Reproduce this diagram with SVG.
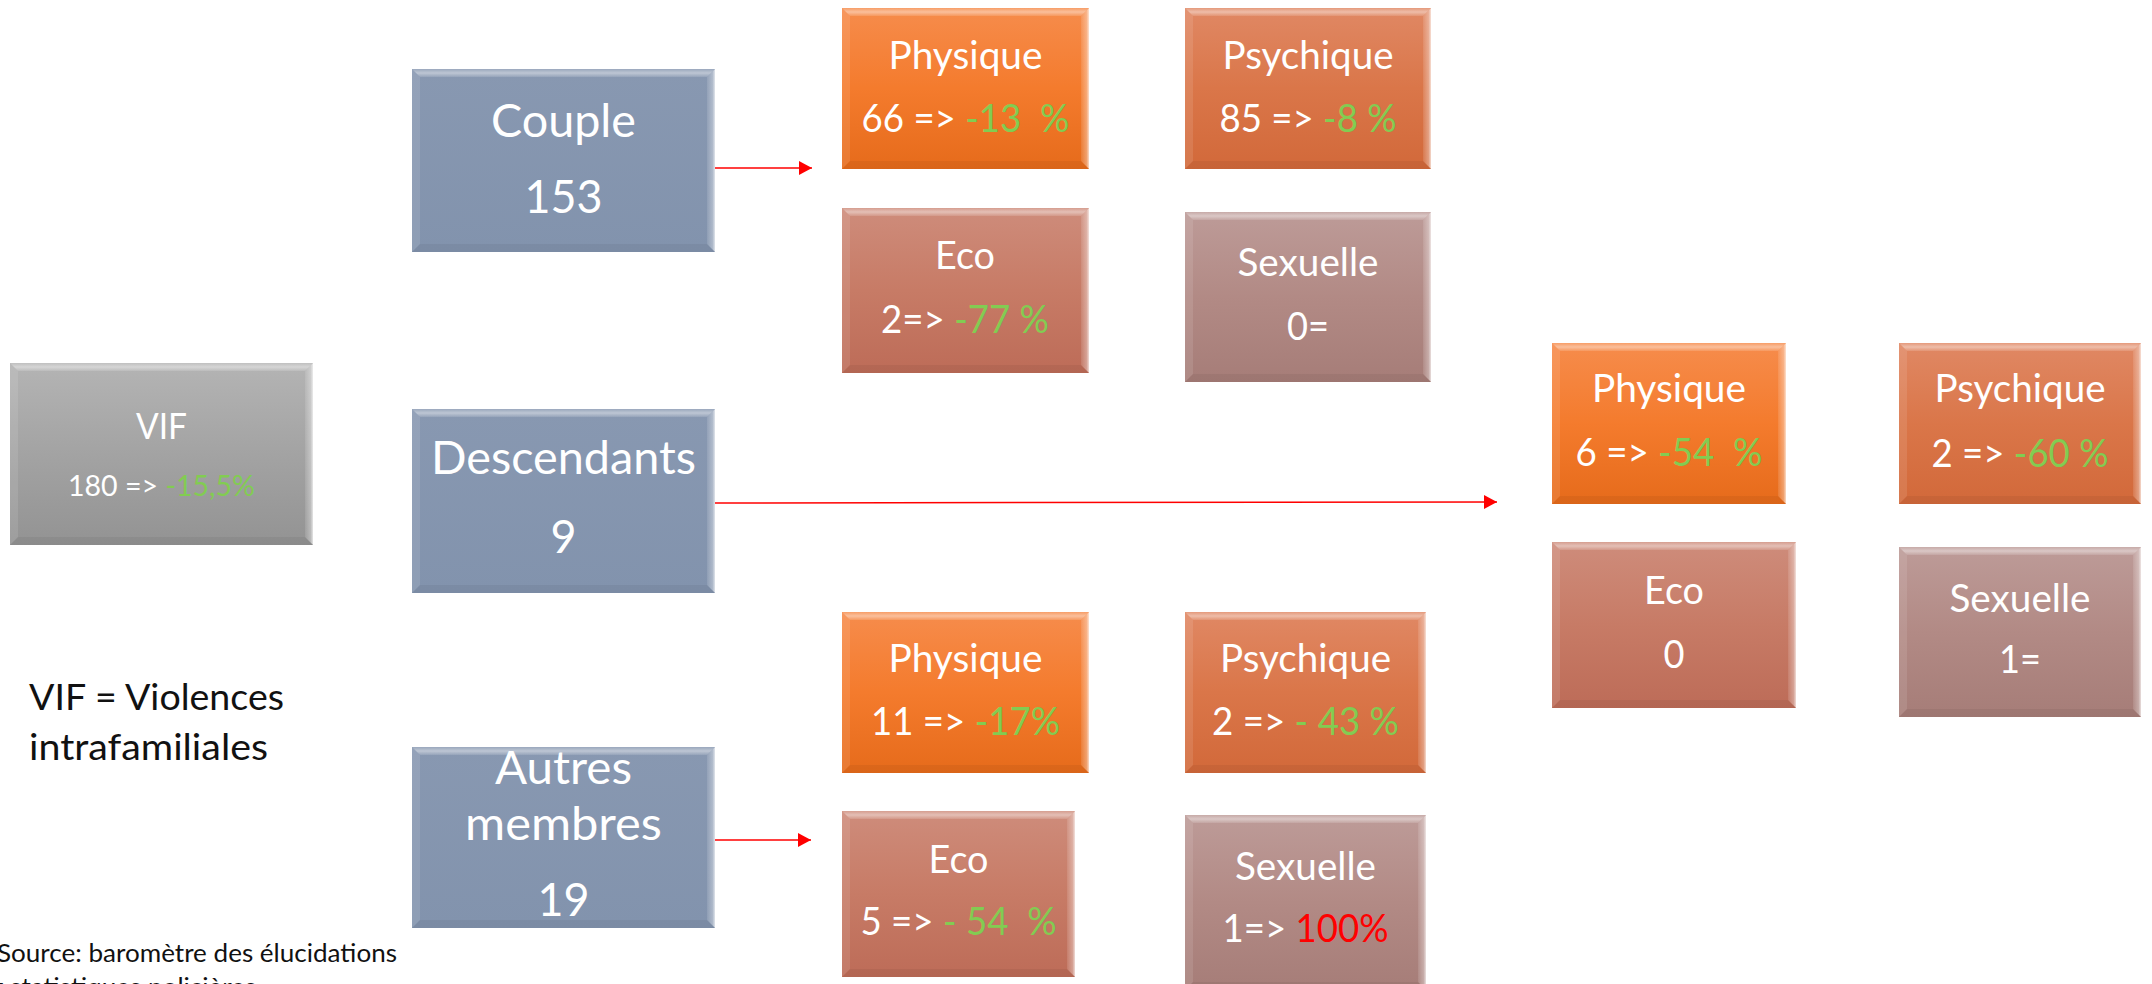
<svg xmlns="http://www.w3.org/2000/svg" width="2152" height="984" viewBox="0 0 2152 984">
<style>
text{font-family:Lato,"Liberation Sans",sans-serif;}
.w{fill:#ffffff;}
.g{fill:#82cc52;}
.r{fill:#ff0000;}
.k{fill:#111111;}
.s38{font-size:38px;}
.s46{font-size:46px;}
.bt{fill:url(#gTop);}
.bl{fill:#ffffff;fill-opacity:0.10;}
.br{fill:url(#gRight);}
.bb{fill:#000000;fill-opacity:0.05;}
.conn{stroke:#ff0000;stroke-width:1.5;fill:none;marker-end:url(#ah);}
</style>
<defs>
<linearGradient id="gGray" x1="0" y1="0" x2="0" y2="1"><stop offset="0" stop-color="#b4b4b4"/><stop offset="0.5" stop-color="#a3a3a3"/><stop offset="1" stop-color="#939393"/></linearGradient>
<linearGradient id="gBlue" x1="0" y1="0" x2="0" y2="1"><stop offset="0" stop-color="#8898b1"/><stop offset="1" stop-color="#8293ad"/></linearGradient>
<linearGradient id="gPhys" x1="0" y1="0" x2="0" y2="1"><stop offset="0" stop-color="#f68c4c"/><stop offset="0.5" stop-color="#f47b2d"/><stop offset="1" stop-color="#e66b1b"/></linearGradient>
<linearGradient id="gPsy" x1="0" y1="0" x2="0" y2="1"><stop offset="0" stop-color="#e08864"/><stop offset="0.5" stop-color="#da7649"/><stop offset="1" stop-color="#d2693a"/></linearGradient>
<linearGradient id="gEco" x1="0" y1="0" x2="0" y2="1"><stop offset="0" stop-color="#ce8c7b"/><stop offset="0.5" stop-color="#c77b66"/><stop offset="1" stop-color="#bd6c58"/></linearGradient>
<linearGradient id="gSex" x1="0" y1="0" x2="0" y2="1"><stop offset="0" stop-color="#bd9b98"/><stop offset="0.5" stop-color="#b28a85"/><stop offset="1" stop-color="#a67d78"/></linearGradient>
<linearGradient id="gTop" x1="0" y1="0" x2="0" y2="1"><stop offset="0" stop-color="#ffffff" stop-opacity="0.15"/><stop offset="0.5" stop-color="#ffffff" stop-opacity="0.45"/><stop offset="1" stop-color="#ffffff" stop-opacity="0.12"/></linearGradient>
<linearGradient id="gRight" x1="0" y1="0" x2="1" y2="0"><stop offset="0" stop-color="#ffffff" stop-opacity="0.1"/><stop offset="0.7" stop-color="#ffffff" stop-opacity="0.35"/><stop offset="1" stop-color="#ffffff" stop-opacity="0.75"/></linearGradient>
<marker id="ah" markerUnits="userSpaceOnUse" markerWidth="14" markerHeight="14" refX="13" refY="7" orient="auto"><path d="M0,0 L13,7 L0,14 z" fill="#ff0000"/></marker>
</defs>
<rect x="0" y="0" width="2152" height="984" fill="#ffffff"/>

<g id="connectors">
<path class="conn" d="M715,168 L812,168"/>
<path class="conn" d="M715,503 L1497,502"/>
<path class="conn" d="M715,840 L811,840"/>
</g>

<g id="vif" transform="translate(10,363)">
<rect width="303" height="182" fill="url(#gGray)"/>
<polygon class="bt" points="0,0 303,0 295,8 8,8"/><polygon class="bl" points="0,0 8,8 8,174 0,182"/><polygon class="br" points="303,0 303,182 295,174 295,8"/><polygon class="bb" points="0,182 8,174 295,174 303,182"/>
<text class="w" x="151.5" y="76" text-anchor="middle" font-size="36" textLength="51" lengthAdjust="spacingAndGlyphs">VIF</text>
<text x="151.5" y="133" text-anchor="middle" font-size="29" textLength="187" lengthAdjust="spacingAndGlyphs"><tspan class="w">180 =&gt; </tspan><tspan class="g">-15,5%</tspan></text>
</g>

<g id="couple" transform="translate(412,69)">
<rect width="303" height="183" fill="url(#gBlue)"/>
<polygon class="bt" points="0,0 303,0 295,8 8,8"/><polygon class="bl" points="0,0 8,8 8,175 0,183"/><polygon class="br" points="303,0 303,183 295,175 295,8"/><polygon class="bb" points="0,183 8,175 295,175 303,183"/>
<text class="w s46" x="151.5" y="68" text-anchor="middle" textLength="145" lengthAdjust="spacingAndGlyphs">Couple</text>
<text class="w s46" x="151.5" y="144" text-anchor="middle" textLength="78" lengthAdjust="spacingAndGlyphs">153</text>
</g>

<g id="descendants" transform="translate(412,409)">
<rect width="303" height="184" fill="url(#gBlue)"/>
<polygon class="bt" points="0,0 303,0 295,8 8,8"/><polygon class="bl" points="0,0 8,8 8,176 0,184"/><polygon class="br" points="303,0 303,184 295,176 295,8"/><polygon class="bb" points="0,184 8,176 295,176 303,184"/>
<text class="w s46" x="151.5" y="65" text-anchor="middle" textLength="265" lengthAdjust="spacingAndGlyphs">Descendants</text>
<text class="w s46" x="151.5" y="144" text-anchor="middle" textLength="26" lengthAdjust="spacingAndGlyphs">9</text>
</g>

<g id="autres" transform="translate(412,747)">
<rect width="303" height="181" fill="url(#gBlue)"/>
<polygon class="bt" points="0,0 303,0 295,8 8,8"/><polygon class="bl" points="0,0 8,8 8,173 0,181"/><polygon class="br" points="303,0 303,181 295,173 295,8"/><polygon class="bb" points="0,181 8,173 295,173 303,181"/>
<text class="w s46" x="151.5" y="37" text-anchor="middle" textLength="137" lengthAdjust="spacingAndGlyphs">Autres</text>
<text class="w s46" x="151.5" y="93" text-anchor="middle" textLength="197" lengthAdjust="spacingAndGlyphs">membres</text>
<text class="w s46" x="151.5" y="169" text-anchor="middle" textLength="52" lengthAdjust="spacingAndGlyphs">19</text>
</g>

<g id="couple-physique" transform="translate(842,8)">
<rect width="247" height="161" fill="url(#gPhys)"/>
<polygon class="bt" points="0,0 247,0 239,8 8,8"/><polygon class="bl" points="0,0 8,8 8,153 0,161"/><polygon class="br" points="247,0 247,161 239,153 239,8"/><polygon class="bb" points="0,161 8,153 239,153 247,161"/>
<text class="w s38" x="123.5" y="61" text-anchor="middle" textLength="154" lengthAdjust="spacingAndGlyphs">Physique</text>
<text class="s38" x="123.5" y="124" text-anchor="middle" xml:space="preserve" textLength="208" lengthAdjust="spacingAndGlyphs"><tspan class="w">66 =&gt; </tspan><tspan class="g">-13  %</tspan></text>
</g>

<g id="couple-psychique" transform="translate(1185,8)">
<rect width="246" height="161" fill="url(#gPsy)"/>
<polygon class="bt" points="0,0 246,0 238,8 8,8"/><polygon class="bl" points="0,0 8,8 8,153 0,161"/><polygon class="br" points="246,0 246,161 238,153 238,8"/><polygon class="bb" points="0,161 8,153 238,153 246,161"/>
<text class="w s38" x="123" y="61" text-anchor="middle" textLength="171" lengthAdjust="spacingAndGlyphs">Psychique</text>
<text class="s38" x="123" y="124" text-anchor="middle" xml:space="preserve" textLength="177" lengthAdjust="spacingAndGlyphs"><tspan class="w">85 =&gt; </tspan><tspan class="g">-8 %</tspan></text>
</g>

<g id="couple-eco" transform="translate(842,208)">
<rect width="247" height="165" fill="url(#gEco)"/>
<polygon class="bt" points="0,0 247,0 239,8 8,8"/><polygon class="bl" points="0,0 8,8 8,157 0,165"/><polygon class="br" points="247,0 247,165 239,157 239,8"/><polygon class="bb" points="0,165 8,157 239,157 247,165"/>
<text class="w s38" x="123" y="61" text-anchor="middle" textLength="60" lengthAdjust="spacingAndGlyphs">Eco</text>
<text class="s38" x="123" y="125" text-anchor="middle" xml:space="preserve" textLength="168" lengthAdjust="spacingAndGlyphs"><tspan class="w">2=&gt; </tspan><tspan class="g">-77 %</tspan></text>
</g>

<g id="couple-sexuelle" transform="translate(1185,212)">
<rect width="246" height="170" fill="url(#gSex)"/>
<polygon class="bt" points="0,0 246,0 238,8 8,8"/><polygon class="bl" points="0,0 8,8 8,162 0,170"/><polygon class="br" points="246,0 246,170 238,162 238,8"/><polygon class="bb" points="0,170 8,162 238,162 246,170"/>
<text class="w s38" x="123" y="64" text-anchor="middle" textLength="141" lengthAdjust="spacingAndGlyphs">Sexuelle</text>
<text class="w s38" x="123" y="128" text-anchor="middle" textLength="42" lengthAdjust="spacingAndGlyphs">0=</text>
</g>

<g id="desc-physique" transform="translate(1552,343)">
<rect width="234" height="161" fill="url(#gPhys)"/>
<polygon class="bt" points="0,0 234,0 226,8 8,8"/><polygon class="bl" points="0,0 8,8 8,153 0,161"/><polygon class="br" points="234,0 234,161 226,153 226,8"/><polygon class="bb" points="0,161 8,153 226,153 234,161"/>
<text class="w s38" x="117" y="59" text-anchor="middle" textLength="154" lengthAdjust="spacingAndGlyphs">Physique</text>
<text class="s38" x="117" y="123" text-anchor="middle" xml:space="preserve" textLength="187" lengthAdjust="spacingAndGlyphs"><tspan class="w">6 =&gt; </tspan><tspan class="g">-54  %</tspan></text>
</g>

<g id="desc-psychique" transform="translate(1899,343)">
<rect width="242" height="161" fill="url(#gPsy)"/>
<polygon class="bt" points="0,0 242,0 234,8 8,8"/><polygon class="bl" points="0,0 8,8 8,153 0,161"/><polygon class="br" points="242,0 242,161 234,153 234,8"/><polygon class="bb" points="0,161 8,153 234,153 242,161"/>
<text class="w s38" x="121" y="59" text-anchor="middle" textLength="171" lengthAdjust="spacingAndGlyphs">Psychique</text>
<text class="s38" x="121" y="124" text-anchor="middle" xml:space="preserve" textLength="177" lengthAdjust="spacingAndGlyphs"><tspan class="w">2 =&gt; </tspan><tspan class="g">-60 %</tspan></text>
</g>

<g id="desc-eco" transform="translate(1552,542)">
<rect width="244" height="166" fill="url(#gEco)"/>
<polygon class="bt" points="0,0 244,0 236,8 8,8"/><polygon class="bl" points="0,0 8,8 8,158 0,166"/><polygon class="br" points="244,0 244,166 236,158 236,8"/><polygon class="bb" points="0,166 8,158 236,158 244,166"/>
<text class="w s38" x="122" y="62" text-anchor="middle" textLength="60" lengthAdjust="spacingAndGlyphs">Eco</text>
<text class="w s38" x="122" y="126" text-anchor="middle" textLength="21" lengthAdjust="spacingAndGlyphs">0</text>
</g>

<g id="desc-sexuelle" transform="translate(1899,547)">
<rect width="242" height="170" fill="url(#gSex)"/>
<polygon class="bt" points="0,0 242,0 234,8 8,8"/><polygon class="bl" points="0,0 8,8 8,162 0,170"/><polygon class="br" points="242,0 242,170 234,162 234,8"/><polygon class="bb" points="0,170 8,162 234,162 242,170"/>
<text class="w s38" x="121" y="65" text-anchor="middle" textLength="141" lengthAdjust="spacingAndGlyphs">Sexuelle</text>
<text class="w s38" x="121" y="126" text-anchor="middle" textLength="42" lengthAdjust="spacingAndGlyphs">1=</text>
</g>

<g id="autres-physique" transform="translate(842,612)">
<rect width="247" height="161" fill="url(#gPhys)"/>
<polygon class="bt" points="0,0 247,0 239,8 8,8"/><polygon class="bl" points="0,0 8,8 8,153 0,161"/><polygon class="br" points="247,0 247,161 239,153 239,8"/><polygon class="bb" points="0,161 8,153 239,153 247,161"/>
<text class="w s38" x="123.5" y="60" text-anchor="middle" textLength="154" lengthAdjust="spacingAndGlyphs">Physique</text>
<text class="s38" x="123.5" y="123" text-anchor="middle" xml:space="preserve" textLength="189" lengthAdjust="spacingAndGlyphs"><tspan class="w">11 =&gt; </tspan><tspan class="g">-17%</tspan></text>
</g>

<g id="autres-psychique" transform="translate(1185,612)">
<rect width="241" height="161" fill="url(#gPsy)"/>
<polygon class="bt" points="0,0 241,0 233,8 8,8"/><polygon class="bl" points="0,0 8,8 8,153 0,161"/><polygon class="br" points="241,0 241,161 233,153 233,8"/><polygon class="bb" points="0,161 8,153 233,153 241,161"/>
<text class="w s38" x="120.5" y="60" text-anchor="middle" textLength="171" lengthAdjust="spacingAndGlyphs">Psychique</text>
<text class="s38" x="120.5" y="123" text-anchor="middle" xml:space="preserve" textLength="187" lengthAdjust="spacingAndGlyphs"><tspan class="w">2 =&gt; </tspan><tspan class="g">- 43 %</tspan></text>
</g>

<g id="autres-eco" transform="translate(842,811)">
<rect width="233" height="166" fill="url(#gEco)"/>
<polygon class="bt" points="0,0 233,0 225,8 8,8"/><polygon class="bl" points="0,0 8,8 8,158 0,166"/><polygon class="br" points="233,0 233,166 225,158 225,8"/><polygon class="bb" points="0,166 8,158 225,158 233,166"/>
<text class="w s38" x="116.5" y="62" text-anchor="middle" textLength="60" lengthAdjust="spacingAndGlyphs">Eco</text>
<text class="s38" x="116.5" y="124" text-anchor="middle" xml:space="preserve" textLength="196" lengthAdjust="spacingAndGlyphs"><tspan class="w">5 =&gt; </tspan><tspan class="g">- 54  %</tspan></text>
</g>

<g id="autres-sexuelle" transform="translate(1185,815)">
<rect width="241" height="175" fill="url(#gSex)"/>
<polygon class="bt" points="0,0 241,0 233,8 8,8"/><polygon class="bl" points="0,0 8,8 8,167 0,175"/><polygon class="br" points="241,0 241,175 233,167 233,8"/><polygon class="bb" points="0,175 8,167 233,167 241,175"/>
<text class="w s38" x="120.5" y="65" text-anchor="middle" textLength="141" lengthAdjust="spacingAndGlyphs">Sexuelle</text>
<text class="s38" x="120.5" y="127" text-anchor="middle" xml:space="preserve" textLength="166" lengthAdjust="spacingAndGlyphs"><tspan class="w">1=&gt; </tspan><tspan class="r">100%</tspan></text>
</g>

<g id="legend">
<text class="k" x="29" y="710" font-size="37" textLength="255" lengthAdjust="spacingAndGlyphs">VIF = Violences</text>
<text class="k" x="29" y="760" font-size="37" textLength="239" lengthAdjust="spacingAndGlyphs">intrafamiliales</text>
</g>

<g id="source">
<text class="k" x="-3" y="962" font-size="25" textLength="400" lengthAdjust="spacingAndGlyphs">Source: baromètre des élucidations</text>
<text class="k" x="-19.6" y="996" font-size="25" textLength="276" lengthAdjust="spacingAndGlyphs">et statistiques policières</text>
</g>
</svg>
